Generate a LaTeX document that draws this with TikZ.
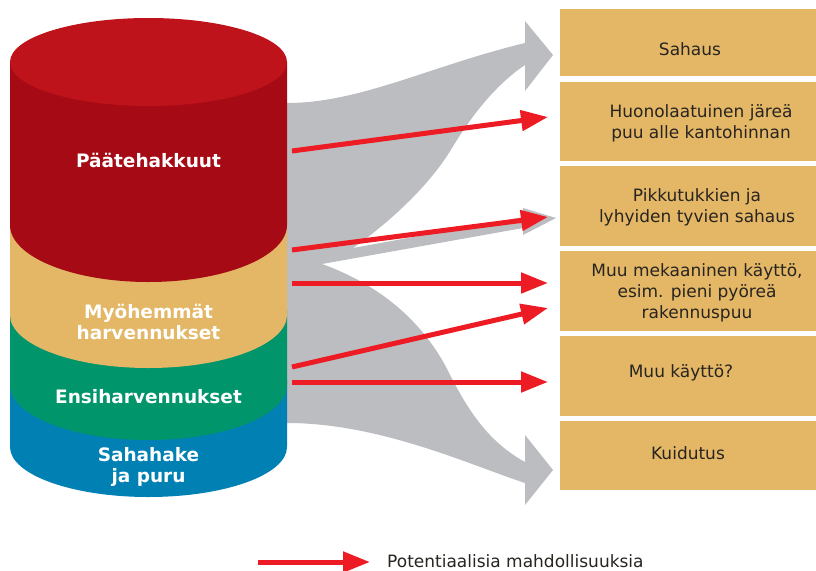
\documentclass[tikz,border=0pt]{standalone}
\usepackage{fontspec}
\setmainfont{DejaVu Sans}
\usetikzlibrary{arrows.meta}
\definecolor{topred}{RGB}{191,19,27}
\definecolor{sidered}{RGB}{166,10,20}
\definecolor{tan}{RGB}{227,183,102}
\definecolor{cgreen}{RGB}{0,149,107}
\definecolor{cblue}{RGB}{0,128,179}
\definecolor{flowgray}{RGB}{188,189,192}
\definecolor{arrred}{RGB}{237,28,36}
\definecolor{boxtext}{RGB}{40,36,32}
\tikzset{
  box/.style={fill=tan, draw=none, inner sep=0pt, minimum width=256pt},
  boxtxt/.style={text=boxtext, align=center, inner sep=0pt, font=\fontsize{17}{21}\selectfont},
  cyltxt/.style={text=white, align=center, inner sep=0pt, font=\fontsize{18.5}{21.5}\selectfont\bfseries},
  redarrow/.style={draw=arrred, line width=5pt, -{Triangle[length=27pt,width=20pt]}},
}
\begin{document}
\begin{tikzpicture}[x=1pt,y=-1pt]
\useasboundingbox (0,0) rectangle (816,570);

% gray flows
\fill[flowgray] (270,103) -- (287,103) .. controls (360,103) and (430,66) .. (525,43)
  -- (525,21) -- (553,55) -- (525,91) -- (525,65)
  .. controls (495,85) and (470,118) .. (452,148)
  .. controls (430,185) and (390,222) .. (353,248)
  -- (523,217) -- (523,208) -- (556,218) -- (523,235) -- (523,228) -- (322,264)
  .. controls (380,285) and (420,320) .. (445,365)
  .. controls (465,405) and (485,440) .. (525,462)
  -- (525,435) -- (553,470) -- (525,505) -- (525,483)
  .. controls (470,465) and (380,423) .. (287,423) -- (270,423) -- cycle;

% cylinder layers
\fill[cblue] (10,380) -- (10,447) .. controls (10,474.6) and (72,497) .. (148.5,497)
  .. controls (225,497) and (287,474.6) .. (287,447) -- (287,380) -- cycle;
\fill[cgreen] (10,310) -- (10,385) .. controls (10,415.4) and (72,440) .. (148.5,440)
  .. controls (225,440) and (287,415.4) .. (287,385) -- (287,310) -- cycle;
\fill[tan] (10,220) -- (10,315) .. controls (10,344.3) and (72,368) .. (148.5,368)
  .. controls (225,368) and (287,344.3) .. (287,315) -- (287,220) -- cycle;
\fill[sidered] (10,62) -- (10,225) .. controls (10,256.5) and (72,282) .. (148.5,282)
  .. controls (225,282) and (287,256.5) .. (287,225) -- (287,62) -- cycle;
\fill[topred] (148.5,62) ellipse [x radius=138.5pt, y radius=44pt];

\node[cyltxt] (l1) at (148.5,160) {Päätehakkuut};
\node[cyltxt] (l2) at (148.5,322) {Myöhemmät\\harvennukset};
\node[cyltxt] (l3) at (148.5,397) {Ensiharvennukset};
\node[cyltxt] (l4) at (148.5,467) {Sahahake\\ja puru};

% boxes
\node[box, minimum height=67pt] (b1) at (688,42.5) {};
\node[box, minimum height=79pt] (b2) at (688,121.5) {};
\node[box, minimum height=80pt] (b3) at (688,206) {};
\node[box, minimum height=80pt] (b4) at (688,291) {};
\node[box, minimum height=80pt] (b5) at (688,376) {};
\node[box, minimum height=69pt] (b6) at (688,455.5) {};

\node[boxtxt] (t1) at (690,49) {Sahaus};
\node[boxtxt] (t2) at (701,123) {Huonolaatuinen järeä\\puu alle kantohinnan};
\node[boxtxt] (t3) at (697,207.5) {Pikkutukkien ja\\lyhyiden tyvien sahaus};
\node[boxtxt] (t4) at (697,293) {Muu mekaaninen käyttö,\\esim. pieni pyöreä\\rakennuspuu};
\node[boxtxt] (t5) at (681,373) {Muu käyttö?};
\node[boxtxt] (t6) at (688,453) {Kuidutus};

% red arrows
\coordinate (s1) at (292,151); \coordinate (e1) at (548,117);
\coordinate (s2) at (292,250); \coordinate (e2) at (548,217);
\coordinate (s3) at (292,283); \coordinate (e3) at (548,283);
\coordinate (s4) at (292,367); \coordinate (e4) at (548,308);
\coordinate (s5) at (292,382); \coordinate (e5) at (548,382);
\draw[redarrow] (s1) -- (e1);
\draw[redarrow] (s2) -- (e2);
\draw[redarrow] (s3) -- (e3);
\draw[redarrow] (s4) -- (e4);
\draw[redarrow] (s5) -- (e5);

% legend
\coordinate (ls) at (258,562); \coordinate (le) at (370,562);
\draw[redarrow] (ls) -- (le);
\node[boxtxt, anchor=west] (lt) at (387,561) {Potentiaalisia mahdollisuuksia};
\end{tikzpicture}
\end{document}
